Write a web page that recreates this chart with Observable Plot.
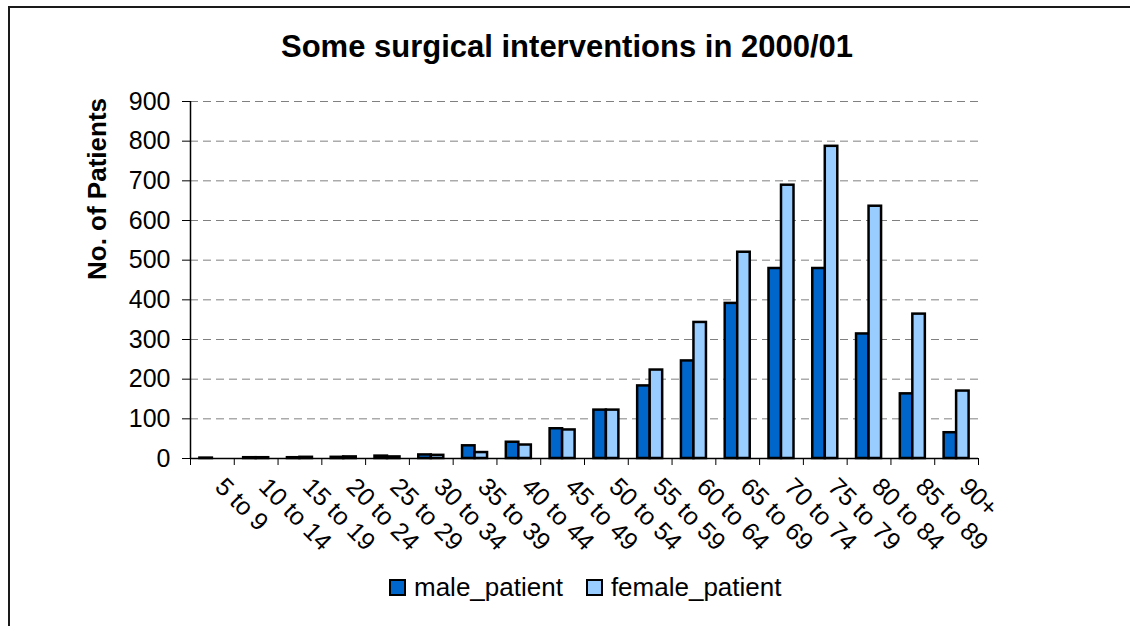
<!DOCTYPE html>
<html>
<head>
<meta charset="utf-8">
<script src="https://cdn.jsdelivr.net/npm/d3@7"></script>
<script src="https://cdn.jsdelivr.net/npm/@observablehq/plot@0.6"></script>
<style>
  html, body { margin: 0; padding: 0; background: #fff; overflow: hidden; }
  #wrap { position: relative; width: 1130px; height: 626px; overflow: hidden; font-family: "Liberation Sans", Arial, sans-serif; }
  #border { position: absolute; left: 8px; top: 6px; width: 1200px; height: 700px; border: 2px solid #1a1a1a; box-sizing: border-box; }
  #title { position: absolute; left: 0; top: 31px; width: 1134px; text-align: center; font-weight: bold; font-size: 31px; line-height: 31px; color: #000; }
  #chart { position: absolute; left: 0; top: 85px; }
  #legend { position: absolute; left: 390px; top: 571px; }
  .lg-swatch > svg { margin-right: 9px !important; overflow: visible !important; }
  .lg-swatch svg rect { stroke: #000; stroke-width: 2px; }
  .lg-swatches-wrap .lg-swatch { margin-right: 24px !important; }
</style>
</head>
<body>
<div id="wrap">
  <div id="border"></div>
  <div id="title">Some surgical interventions in 2000/01</div>
  <div id="chart"></div>
  <div id="legend"></div>
</div>
<script>
const categories = ["5 to 9", "10 to 14", "15 to 19", "20 to 24", "25 to 29", "30 to 34", "35 to 39", "40 to 44", "45 to 49", "50 to 54", "55 to 59", "60 to 64", "65 to 69", "70 to 74", "75 to 79", "80 to 84", "85 to 89", "90+"];
const male_patient = [1, 2, 2, 3, 6, 9, 32, 41, 75, 122, 183, 246, 391, 479, 479, 314, 163, 65];
const female_patient = [0, 2, 3, 4, 4, 8, 15, 34, 72, 122, 223, 343, 520, 689, 787, 636, 364, 170];
const seriesNames = ["male_patient", "female_patient"];
const seriesColors = ["#0066CC", "#99CCFF"];
const yTicks = [0, 100, 200, 300, 400, 500, 600, 700, 800, 900];
const yTitle = "No. of Patients";

const rows = [];
categories.forEach((c, i) => {
  rows.push({cat: c, series: "male_patient", value: male_patient[i]});
  rows.push({cat: c, series: "female_patient", value: female_patient[i]});
});

const width = 1130, height = 475;
const marginLeft = 190, marginRight = 152, marginTop = 16, marginBottom = 102;
const W = (width - marginLeft - marginRight) / categories.length; // category slot
const barW = W / 3.5; // gap width 150%

const font = "'Liberation Sans', Arial, sans-serif";

const plot = Plot.plot({
  width, height, marginLeft, marginRight, marginTop, marginBottom,
  style: {fontFamily: font, fontSize: "25px", color: "#000", background: "transparent", overflow: "visible"},
  x: {type: "band", domain: categories, padding: 0, round: false, label: null, axis: null},
  y: {domain: [0, 900], label: null, axis: null},
  color: {domain: seriesNames, range: seriesColors},
  marks: [
    Plot.ruleY(yTicks.slice(1), {stroke: "#808080", strokeWidth: 1, strokeDasharray: "8,5"}),
    Plot.barY(rows.filter(d => d.series === "male_patient" && d.value > 0), {
      x: "cat", y: "value", fill: "series", stroke: "#000", strokeWidth: 2.5,
      insetLeft: W / 2 - barW, insetRight: W / 2
    }),
    Plot.barY(rows.filter(d => d.series === "female_patient" && d.value > 0), {
      x: "cat", y: "value", fill: "series", stroke: "#000", strokeWidth: 2.5,
      insetLeft: W / 2, insetRight: W / 2 - barW
    }),
    Plot.ruleY([0], {stroke: "#000", strokeWidth: 1.5}),
    Plot.ruleX([categories[0]], {dx: -W / 2, stroke: "#000", strokeWidth: 1.5}),
    Plot.axisY(yTicks, {tickSize: 8, tickPadding: 12, fontSize: 25, label: null, stroke: "#000"}),
    Plot.axisX(categories, {tickSize: 7, tickFormat: () => "", dx: -W / 2, label: null}),
    Plot.axisX([categories[categories.length - 1]], {tickSize: 7, tickFormat: () => "", dx: W / 2, label: null}),
    Plot.axisX(categories, {tickSize: 0, tickRotate: 45, tickPadding: 24, dx: 7, fontSize: 25, label: null}),
    Plot.text([yTitle], {frameAnchor: "left", text: d => d, rotate: -90, dx: -93, fontSize: 26, fontWeight: "bold"})
  ]
});
document.getElementById("chart").appendChild(plot);

const legend = plot.legend("color", {
  swatchSize: 15, className: "lg",
  style: {fontFamily: font, fontSize: "26px", color: "#000", marginBottom: "0"}
});
document.getElementById("legend").appendChild(legend);
</script>
</body>
</html>
